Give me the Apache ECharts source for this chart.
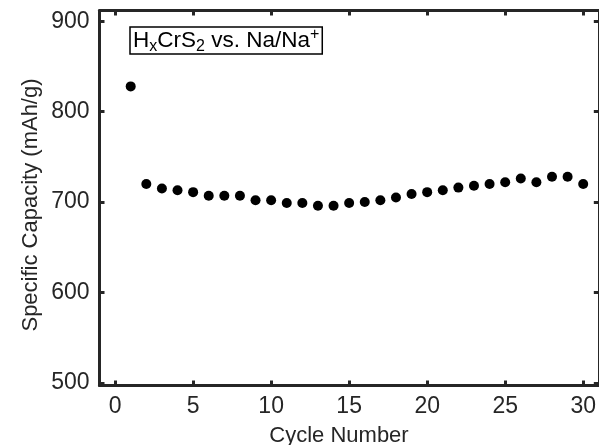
<!DOCTYPE html>
<html>
<head>
<meta charset="utf-8">
<script src="https://cdn.jsdelivr.net/npm/echarts@6/dist/echarts.min.js"></script>
<style>
html,body{margin:0;padding:0;background:#fff;}
#chart{width:599px;height:445px;}
</style>
</head>
<body>
<div id="chart"></div>
<script>
// ---- data ----
var cycles = [1,2,3,4,5,6,7,8,9,10,11,12,13,14,15,16,17,18,19,20,21,22,23,24,25,26,27,28,29,30];
var capacity = [828,720,715,713,711,707,707,707,702,702,699,699,696,696,699,700,702,705,709,711,713,716,718,720,722,726,722,728,728,720];
var xTicks = [0,5,10,15,20,25,30];
var yTicks = [500,600,700,800,900];
var xTitle = 'Cycle Number';
var yTitle = 'Specific Capacity (mAh/g)';
var boxParts = [['H','n'],['x','sub'],['CrS','n'],['2','sub'],[' vs. Na/Na','n'],['+','sup']];

var FONT = '"Liberation Sans", Arial, Helvetica, sans-serif';
var AX = '#262626';
var chart = echarts.init(document.getElementById('chart'), null, {renderer:'canvas'});

function mkAxis(base){
  return Object.assign({
    axisLine:{show:true, onZero:false, lineStyle:{color:AX, width:3}},
    splitLine:{show:false}
  }, base);
}

// build title box from measured fragments
var ctx = document.createElement('canvas').getContext('2d');
var mainSize = 22.5, subSize = 16;
var bx = 130, by = 27, bh = 27;
var cx = bx + 3;
var textEls = [];
var mid = by + bh/2;
boxParts.forEach(function(p){
  var sz = p[1]==='n' ? mainSize : subSize;
  ctx.font = sz + 'px ' + FONT;
  var w = ctx.measureText(p[0]).width;
  var yy = p[1]==='sub' ? mid + 6 : (p[1]==='sup' ? mid - 6 : mid);
  textEls.push({type:'text', x:cx, y:yy, silent:true, z:10,
    style:{text:p[0], font:sz+'px '+FONT, fill:'#000', align:'left', verticalAlign:'middle'}});
  cx += w;
});
var bw = cx - bx + 3;

var option = {
  backgroundColor:'#fff',
  animation:false,
  grid:{left:99.5, top:10.5, width:502, height:375, containLabel:false},
  xAxis:[
    mkAxis({type:'value', min:-1, max:31, position:'bottom',
      axisTick:{show:true, inside:true, length:5, customValues:xTicks, lineStyle:{color:AX, width:3}},
      axisLabel:{show:true, customValues:xTicks, margin:10, color:AX, fontSize:23, fontFamily:FONT}}),
    mkAxis({type:'value', min:-1, max:31, position:'top',
      axisTick:{show:true, inside:true, length:5, customValues:xTicks, lineStyle:{color:AX, width:3}},
      axisLabel:{show:false}})
  ],
  yAxis:[
    mkAxis({type:'value', min:497, max:912, position:'left',
      axisTick:{show:true, inside:true, length:5, customValues:yTicks, lineStyle:{color:AX, width:3}},
      axisLabel:{show:true, customValues:yTicks, margin:10, color:AX, fontSize:23, fontFamily:FONT}}),
    mkAxis({type:'value', min:497, max:912, position:'right',
      axisTick:{show:true, inside:true, length:5, customValues:yTicks, lineStyle:{color:AX, width:3}},
      axisLabel:{show:false}})
  ],
  series:[{
    type:'scatter', xAxisIndex:0, yAxisIndex:0,
    data: cycles.map(function(c,i){return [c, capacity[i]];}),
    symbol:'circle', symbolSize:10,
    itemStyle:{color:'#000', opacity:1}
  }],
  graphic:[
    {type:'text', x:339, y:436, silent:true,
      style:{text:xTitle, font:'22px '+FONT, fill:AX, align:'center', verticalAlign:'middle'}},
    {type:'text', x:31, y:205, rotation:Math.PI/2, silent:true,
      style:{text:yTitle, font:'22px '+FONT, fill:AX, align:'center', verticalAlign:'middle'}},
    {type:'rect', shape:{x:bx, y:by, width:bw, height:bh}, silent:true, z:5,
      style:{fill:'#fff', stroke:'#000', lineWidth:1.5}}
  ].concat(textEls)
};
chart.setOption(option);
</script>
</body>
</html>
